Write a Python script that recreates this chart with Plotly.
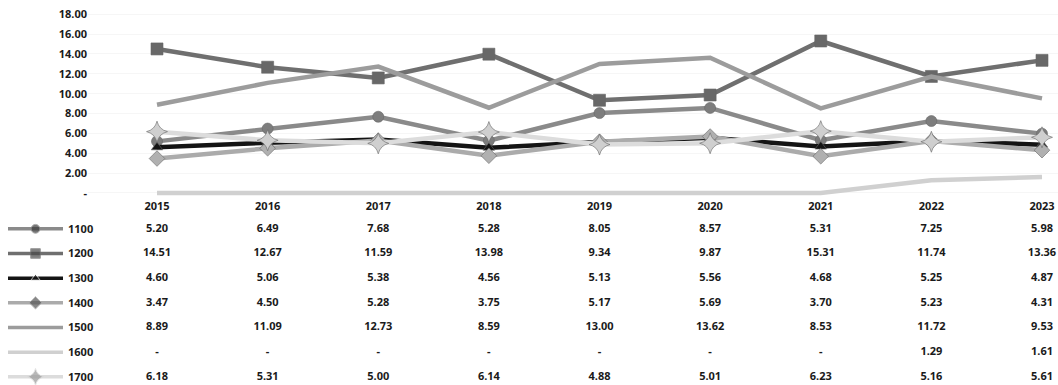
import plotly.graph_objects as go

years = [2015, 2016, 2017, 2018, 2019, 2020, 2021, 2022, 2023]
series_names = ["1100", "1200", "1300", "1400", "1500", "1600", "1700"]

s1100 = [5.20, 6.49, 7.68, 5.28, 8.05, 8.57, 5.31, 7.25, 5.98]
s1200 = [14.51, 12.67, 11.59, 13.98, 9.34, 9.87, 15.31, 11.74, 13.36]
s1300 = [4.60, 5.06, 5.38, 4.56, 5.13, 5.56, 4.68, 5.25, 4.87]
s1400 = [3.47, 4.50, 5.28, 3.75, 5.17, 5.69, 3.70, 5.23, 4.31]
s1500 = [8.89, 11.09, 12.73, 8.59, 13.00, 13.62, 8.53, 11.72, 9.53]
s1600 = [0, 0, 0, 0, 0, 0, 0, 1.29, 1.61]
s1700 = [6.18, 5.31, 5.00, 6.14, 4.88, 5.01, 6.23, 5.16, 5.61]

y_ticks = [0, 2, 4, 6, 8, 10, 12, 14, 16, 18]

all_series = [s1100, s1200, s1300, s1400, s1500, s1600, s1700]

W, H = 1058, 385


def px_x(sx):
    return sx / W


def px_y(sy):
    return 1 - sy / H


# estilo por serie (escala de grises, como el original escaneado)
estilos = {
    "1100": dict(color="#8a8a8a", symbol="circle", msize=11, mcolor="#7d7d7d", kcolor="#3a3a3a"),
    "1200": dict(color="#6f6f6f", symbol="square", msize=12, mcolor="#686868", kcolor="#4a4a4a"),
    "1300": dict(color="#141414", symbol="triangle-up", msize=10, mcolor="#141414", kcolor="#141414"),
    "1400": dict(color="#ababab", symbol="diamond", msize=12, mcolor="#b0b0b0", kcolor="#555555"),
    "1500": dict(color="#9c9c9c", symbol=None, msize=0, mcolor=None, kcolor=None),
    "1600": dict(color="#d0d0d0", symbol=None, msize=0, mcolor=None, kcolor=None),
    "1700": dict(color="#dcdcdc", symbol="star-diamond", msize=15, mcolor="#cfcfcf", kcolor="#9a9a9a"),
}

fuente = dict(family="Noto Sans", size=11, color="#1a1a1a", weight="bold")

fig = go.Figure()

# lineas del grafico
for name, vals in zip(series_names, all_series):
    e = estilos[name]
    marker = dict(symbol=e["symbol"], size=e["msize"], color=e["mcolor"],
                  line=dict(width=0.6, color="#666666")) if e["symbol"] else None
    fig.add_trace(go.Scatter(
        x=years, y=vals, name=name,
        mode="lines+markers" if e["symbol"] else "lines",
        line=dict(color=e["color"], width=4.5),
        marker=marker, cliponaxis=False,
        xaxis="x", yaxis="y", showlegend=False,
    ))

# tabla de valores bajo el grafico
for name, vals in zip(series_names, all_series):
    fig.add_trace(go.Scatter(
        x=years, y=[name] * len(years),
        text=[f"{v:.2f}" if v else "-" for v in vals],
        mode="text", textfont=fuente, cliponaxis=False,
        xaxis="x2", yaxis="y2", showlegend=False, hoverinfo="skip",
    ))

# claves de la leyenda a la izquierda de cada fila
for name in series_names:
    e = estilos[name]
    fig.add_trace(go.Scatter(
        x=[0, 1, 2], y=[name] * 3,
        mode="lines+markers" if e["symbol"] else "lines",
        line=dict(color=e["color"], width=3.5),
        marker=dict(symbol=e["symbol"], size=[0, e["msize"] * 0.8, 0], color=e["kcolor"])
        if e["symbol"] else None,
        cliponaxis=False,
        xaxis="x3", yaxis="y2", showlegend=False, hoverinfo="skip",
    ))

x_dom = [px_x(88), 1]
x_rng = [2015 - 69 / 110.6, 2023 + (W - 1042) / 110.6]

row0, paso = 230, 24.8

fig.update_layout(
    width=W, height=H,
    margin=dict(l=0, r=0, t=0, b=0),
    plot_bgcolor="white", paper_bgcolor="white",
    font=fuente,
    xaxis=dict(domain=x_dom, range=x_rng, tickvals=years, ticktext=[str(y) for y in years],
               showgrid=False, zeroline=False, showline=False, ticks="", tickfont=fuente,
               ticklabeloverflow="allow"),
    yaxis=dict(domain=[px_y(199), px_y(2)], range=[-0.5, (194 - 2) / 9.98],
               tickvals=y_ticks, ticktext=[f"{t:.2f}" if t else "-" for t in y_ticks],
               showgrid=True, gridcolor="#f6f6f6", zeroline=False, showline=False,
               ticks="", tickfont=fuente, ticklabeloverflow="allow"),
    xaxis2=dict(domain=x_dom, range=x_rng, anchor="y2", visible=False),
    xaxis3=dict(domain=[px_x(8), px_x(63)], range=[0, 2], anchor="y2", visible=False),
    yaxis2=dict(domain=[0, px_y(row0 - paso / 2)],
                range=[(H - row0) / paso, -0.5], type="category",
                categoryorder="array", categoryarray=series_names,
                anchor="x3", side="right", showgrid=False, zeroline=False,
                showline=False, ticks="", tickfont=fuente, ticklabeloverflow="allow",
                ticklabelstandoff=4),
)

fig.write_html(
    "out.html",
    config={"displayModeBar": False},
    post_script="document.body.style.margin='0';document.body.style.overflow='hidden';",
)
